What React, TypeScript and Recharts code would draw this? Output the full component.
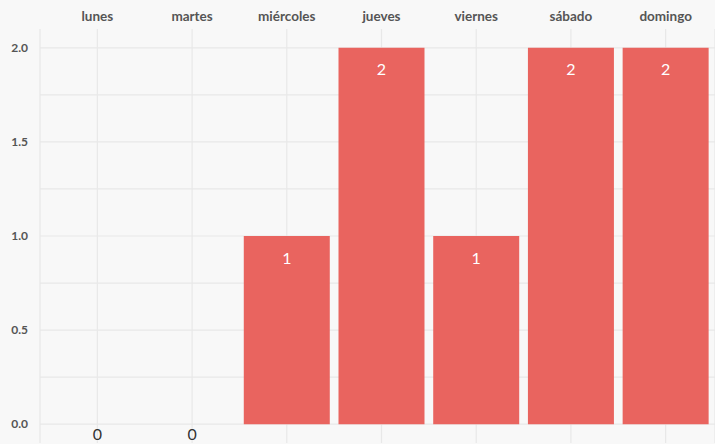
import React from 'react';
import { BarChart, Bar, XAxis, YAxis, CartesianGrid, LabelList, ReferenceDot } from 'recharts';

const days = ['lunes', 'martes', 'miércoles', 'jueves', 'viernes', 'sábado', 'domingo'];
const counts = [0, 0, 1, 2, 1, 2, 2];
const yTicks = [0, 0.5, 1, 1.5, 2];
const gridValues = [0, 0.25, 0.5, 0.75, 1, 1.25, 1.5, 1.75, 2];

const data = days.map((day, i) => ({ day, count: counts[i] }));

const FONT = 'Lato, "Open Sans", sans-serif';

const BarLabel = (props: any) => {
    const { x, y, width, value } = props;
    if (!value) return null;
    return (
        <text x={x + width / 2} y={y + 21} textAnchor="middle" dominantBaseline="central"
            fill="#fff" fontSize={16} fontFamily={FONT}>
            {value}
        </text>
    );
};

// zero bars get their label just under the baseline
const ZeroLabel = (props: any) => (
    <text x={props.cx} y={props.cy + 9} textAnchor="middle" dominantBaseline="central"
        fill="#333" fontSize={16} fontFamily={FONT}>
        0
    </text>
);

export default function App() {
    return (
        <div style={{ position: 'absolute', left: 0, top: 0, width: 715, height: 444, background: '#f8f8f8' }}>
            <BarChart width={715} height={444} data={data}
                margin={{ top: 0, right: 0, bottom: 1, left: 0 }}
                barCategoryGap="4.6%">
                <CartesianGrid stroke="#e8e8e8" strokeWidth={1.2} horizontalValues={gridValues} />
                <XAxis dataKey="day" orientation="top" height={29} axisLine={false} tickLine={false}
                    tickSize={0} tickMargin={8} padding={{ left: 10, right: 2 }} interval={0}
                    tick={{ fill: '#555', fontSize: 13.5, fontWeight: 700, fontFamily: FONT }} />
                <YAxis width={40} domain={[-0.1, 2.1]} ticks={yTicks} axisLine={false} tickLine={false}
                    tickSize={0} tickMargin={12} tickFormatter={(v: number) => v.toFixed(1)}
                    tick={{ fill: '#555', fontSize: 12, fontWeight: 700, fontFamily: FONT }} />
                <Bar dataKey="count" fill="#e9645f" isAnimationActive={false}>
                    <LabelList dataKey="count" content={BarLabel} />
                </Bar>
                {data.filter(d => d.count === 0).map(d => (
                    <ReferenceDot key={d.day} x={d.day} y={d.count} ifOverflow="visible" shape={ZeroLabel} />
                ))}
            </BarChart>
        </div>
    );
}
